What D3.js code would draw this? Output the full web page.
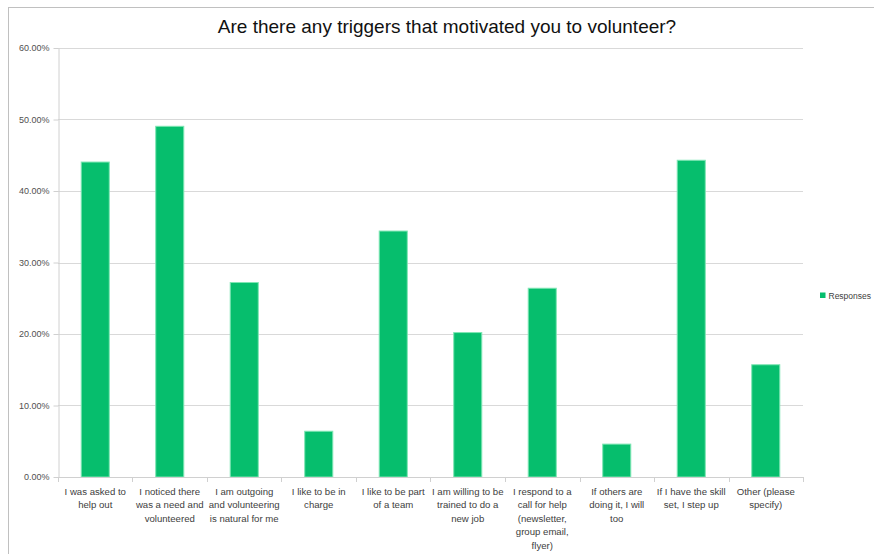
<!DOCTYPE html>
<html>
<head>
<meta charset="utf-8">
<script src="https://cdn.jsdelivr.net/npm/d3@7"></script>
<style>
  html, body { margin: 0; padding: 0; background: #fff; }
  svg { display: block; }
</style>
</head>
<body>
<svg id="chart" width="874" height="554"></svg>
<script>
// ---- data ----
const title = "Are there any triggers that motivated you to volunteer?";
const categories = [
  "I was asked to\nhelp out",
  "I noticed there\nwas a need and\nvolunteered",
  "I am outgoing\nand volunteering\nis natural for me",
  "I like to be in\ncharge",
  "I like to be part\nof a team",
  "I am willing to be\ntrained to do a\nnew job",
  "I respond to a\ncall for help\n(newsletter,\ngroup email,\nflyer)",
  "If others are\ndoing it, I will\ntoo",
  "If I have the skill\nset, I step up",
  "Other (please\nspecify)"
];
const responses = [0.4405, 0.4905, 0.2720, 0.0640, 0.3440, 0.2020, 0.2640, 0.0460, 0.4430, 0.1570];
const yTicks = [0, 0.1, 0.2, 0.3, 0.4, 0.5, 0.6];
const seriesName = "Responses";

// ---- layout ----
const svg = d3.select("#chart");
const plotLeft = 58, plotRight = 803, plotTop = 48, plotBottom = 477;
const green = "#06be6d";

// frame
svg.append("rect").attr("x", 8.5).attr("y", 7.5).attr("width", 880).attr("height", 600)
  .attr("fill", "none").attr("stroke", "#c0c0c0").attr("stroke-width", 1);

svg.append("text").attr("x", 447).attr("y", 33).attr("text-anchor", "middle")
  .attr("font-family", "Liberation Sans, Arial, sans-serif").attr("font-size", 19)
  .attr("fill", "#111").text(title);

const x = d3.scaleBand().domain(categories).range([plotLeft, plotRight]).paddingInner(0.61).paddingOuter(0.305);
const y = d3.scaleLinear().domain([0, 0.6]).range([plotBottom, plotTop]);

// gridlines
svg.append("g").selectAll("line").data(yTicks.filter(d => d > 0)).join("line")
  .attr("x1", plotLeft).attr("x2", plotRight)
  .attr("y1", d => Math.round(y(d)) + 0.5).attr("y2", d => Math.round(y(d)) + 0.5)
  .attr("stroke", "#d9d9d9").attr("stroke-width", 1);

// y axis
const yAxis = svg.append("g").attr("transform", `translate(${plotLeft + 0.5},0)`)
  .call(d3.axisLeft(y).tickValues(yTicks).tickFormat(d3.format(".2%")).tickSize(5).tickSizeOuter(0).tickPadding(4));
yAxis.select(".domain").attr("stroke", "#d0d0d0");
yAxis.selectAll(".tick line").attr("stroke", "#d0d0d0");
yAxis.selectAll(".tick text").attr("font-family", "Liberation Sans, Arial, sans-serif")
  .attr("font-size", 9).attr("fill", "#505050");

// bars
svg.append("g").selectAll("rect").data(categories).join("rect")
  .attr("x", d => x(d) + 0.5)
  .attr("y", (d, i) => y(responses[i]))
  .attr("width", x.bandwidth() - 1)
  .attr("height", (d, i) => y(0) - y(responses[i]))
  .attr("fill", green).attr("stroke", "#7fe6b4").attr("stroke-width", 1);

// x axis
const step = x.step();
const boundaries = categories.map(c => x(c) - step * x.paddingInner() / 2).concat([plotRight]);
const xg = svg.append("g");
xg.append("line").attr("x1", plotLeft).attr("x2", plotRight).attr("y1", plotBottom + 0.5).attr("y2", plotBottom + 0.5)
  .attr("stroke", "#d0d0d0");
xg.selectAll("line.t").data(boundaries).join("line").attr("class", "t")
  .attr("x1", d => Math.round(d) + 0.5).attr("x2", d => Math.round(d) + 0.5)
  .attr("y1", plotBottom).attr("y2", plotBottom + 5).attr("stroke", "#d0d0d0");

const labels = xg.selectAll("text").data(categories).join("text")
  .attr("text-anchor", "middle")
  .attr("font-family", "Liberation Sans, Arial, sans-serif").attr("font-size", 9.6)
  .attr("fill", "#404040");
labels.each(function(d) {
  const t = d3.select(this);
  const cx = x(d) + x.bandwidth() / 2;
  d.split("\n").forEach((line, i) => {
    t.append("tspan").attr("x", cx).attr("y", 494.5 + i * 13.5).text(line);
  });
});

// legend
svg.append("rect").attr("x", 820).attr("y", 292.5).attr("width", 5.5).attr("height", 5.5).attr("fill", green);
svg.append("text").attr("x", 828.5).attr("y", 298.5)
  .attr("font-family", "Liberation Sans, Arial, sans-serif").attr("font-size", 8.5)
  .attr("fill", "#404040").text(seriesName);
</script>
</body>
</html>
